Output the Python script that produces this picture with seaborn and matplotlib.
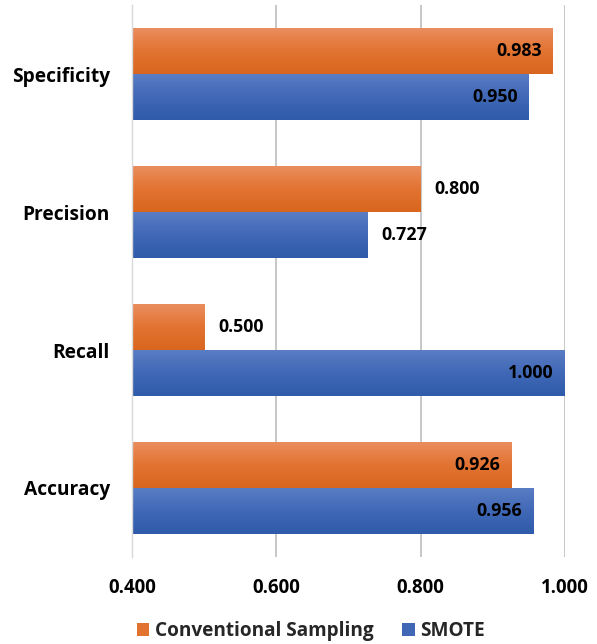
import numpy as np
import pandas as pd
import matplotlib
matplotlib.use("Agg")
import matplotlib.pyplot as plt
from matplotlib.colors import LinearSegmentedColormap
from matplotlib.patches import Patch
import seaborn as sns

metrics = ["Specificity", "Precision", "Recall", "Accuracy"]
conventional = [0.983, 0.800, 0.500, 0.926]
smote = [0.950, 0.727, 1.000, 0.956]
series = ["Conventional Sampling", "SMOTE"]
x_ticks = [0.4, 0.6, 0.8, 1.0]

df = pd.DataFrame({
    "Metric": metrics * 2,
    "Value": conventional + smote,
    "Method": [series[0]] * len(metrics) + [series[1]] * len(metrics),
})

sns.set_theme(style="white")
plt.rcParams["font.family"] = ["Open Sans", "DejaVu Sans"]

solid = {"Conventional Sampling": "#E2722F", "SMOTE": "#3F67B5"}
grad = {
    "Conventional Sampling": ("#EA8D5E", "#E27331", "#D9661E"),
    "SMOTE": ("#5A7DC4", "#4068B6", "#2F5BAA"),
}

fig = plt.figure(figsize=(5.97, 6.44), dpi=100)
ax = fig.add_axes([132 / 597, 1 - 557 / 644, (565 - 132) / 597, (557 - 5) / 644])

sns.barplot(data=df, y="Metric", x="Value", hue="Method", hue_order=series,
            order=metrics, palette=solid, width=0.66, orient="h",
            ax=ax, legend=False, saturation=1, linewidth=0)

XMIN, XMAX = 0.4, 1.0
ax.set_xlim(XMIN, XMAX)
ax.set_ylim(3.5, -0.5)

# vertical gradient fill on each bar
bars = [p for p in ax.patches if p.get_width() > 0]
for i, bar in enumerate(bars):
    name = series[i // len(metrics)]
    cmap = LinearSegmentedColormap.from_list(name, grad[name])
    x1 = bar.get_x() + bar.get_width()
    x0 = max(bar.get_x(), XMIN)
    y0, h = bar.get_y(), bar.get_height()
    g = np.linspace(0, 1, 64).reshape(-1, 1)
    ax.imshow(g, cmap=cmap, aspect="auto", origin="upper",
              extent=(x0, x1, y0 + h, y0), zorder=bar.get_zorder() + 0.1,
              interpolation="bilinear")

ax.set_xlim(XMIN, XMAX)
ax.set_ylim(3.5, -0.5)

# value labels
for bar in bars:
    v = bar.get_width()
    yc = bar.get_y() + bar.get_height() / 2
    inside = v >= 0.9
    ax.annotate(f"{v:.3f}", (v, yc), xytext=(-8 if inside else 10, 0),
                textcoords="offset points", ha="right" if inside else "left",
                va="center", fontsize=12.8, fontweight="bold", color="black",
                zorder=5)

ax.set_xticks(x_ticks)
ax.set_xticklabels([f"{t:.3f}" for t in x_ticks])
ax.xaxis.grid(True, color="#BEBEBE", linewidth=1.2)
ax.set_axisbelow(True)
for s in ["top", "right", "bottom"]:
    ax.spines[s].set_visible(False)
ax.spines["left"].set_color("#D9D9D9")
ax.spines["left"].set_linewidth(1.0)
ax.tick_params(axis="x", length=0, pad=15, labelsize=13.4)
ax.tick_params(axis="y", length=0, pad=16, labelsize=13.8)
for lbl in ax.get_xticklabels() + ax.get_yticklabels():
    lbl.set_fontweight("bold")
    lbl.set_color("black")
ax.set_xlabel("")
ax.set_ylabel("")

handles = [Patch(facecolor=solid[s], edgecolor="none") for s in series]
fig.legend(handles, series, loc="center", bbox_to_anchor=(311 / 597, 1 - 631 / 644),
           ncol=2, frameon=False, handlelength=0.65, handleheight=0.65,
           handletextpad=0.3, columnspacing=1.5,
           prop={"weight": "bold", "size": 13.7})

fig.savefig("out.png", dpi=100, facecolor="white")
